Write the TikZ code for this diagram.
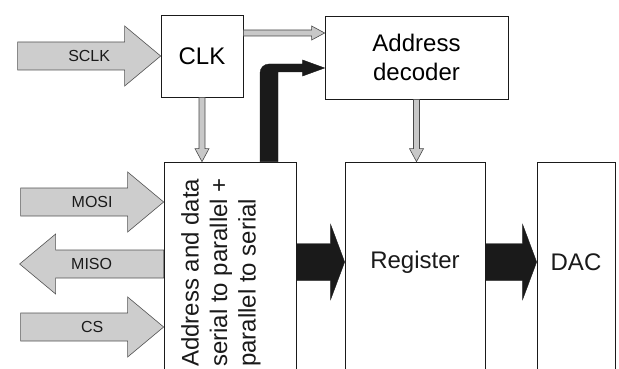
\documentclass[tikz,border=0pt]{standalone}
\usepackage{fontspec}
\usetikzlibrary{calc,positioning}
\newfontfamily\SpiFont{Liberation Sans}
\definecolor{ink}{HTML}{1A1A1A}
\definecolor{pinGrey}{HTML}{CDCDCD}
\definecolor{lineGrey}{HTML}{C8C8C8}
\newcommand{\BlockFont}{\SpiFont\fontsize{24}{28.5}\selectfont}
\newcommand{\PinFont}{\SpiFont\fontsize{16}{19}\selectfont}
\tikzset{
  block/.style={
    draw=ink, line width=0.7pt, fill=white, inner sep=0pt,
    align=center, font=\BlockFont
  },
  block text/.style={font=\BlockFont, ink, inner sep=0pt, align=center},
  pin arrow/.style={draw=ink!75, line width=0.6pt, fill=pinGrey, line join=miter},
  pin label/.style={font=\PinFont, ink, inner sep=0pt},
  ctrl arrow/.style={draw=ink!80, line width=0.6pt, fill=lineGrey, line join=miter},
  bus arrow/.style={fill=ink, draw=ink, line width=0.4pt, line join=miter},
}

\begin{document}
\begin{tikzpicture}[x=1pt,y=-1pt]
  \useasboundingbox (0,0) rectangle (619,369);
  \clip (0,0) rectangle (619,369);

  % Blocks
  \node[block, minimum width=82pt, minimum height=82pt] (clk) at (202,56) {CLK};
  \node[block, minimum width=183pt, minimum height=83pt] (dec) at (416.5,57.5) {Address\\decoder};
  \node[block, minimum width=132pt, minimum height=213pt] (ser) at (230,268.5) {};
  \node[block, minimum width=140pt, minimum height=213pt] (reg) at (415,268.5) {};
  \node[block, minimum width=78pt, minimum height=213pt] (dac) at (576,268.5) {};

  \node[block text, rotate=90, anchor=north west, align=left] (serText) at (181,367)
    {Address and data\\serial to parallel +\\parallel to serial};
  \node[block text] (regText) at ([yshift=6.5pt]reg.center) {Register};
  \node[block text] (dacText) at ([yshift=6.5pt]dac.center) {DAC};

  % SPI pins going in
  \foreach \nm/\txt/\tip in {sclk/SCLK/{clk.west}, mosi/MOSI/{ser.west |- 0,202}, cs/CS/{ser.west |- 0,327}} {
    \coordinate (tip) at (\tip);
    \draw[pin arrow] (tip) -- ++(-36,-30) -- ++(0,16) -- ++(-107,0) -- ++(0,28)
      -- ++(107,0) -- ++(0,16) -- cycle;
    \node[pin label] (\nm) at ($(tip)+(-71.5,0)$) {\txt};
  }

  % MISO going out
  \coordinate (misoBase) at (ser.west |- 0,264);
  \draw[pin arrow] ($(misoBase)+(0,-14)$) -- ++(-108,0) -- ++(0,-16) -- ++(-36,30)
    -- ++(36,30) -- ++(0,-16) -- ++(108,0) -- cycle;
  \node[pin label] (miso) at ($(misoBase)+(-72,0)$) {MISO};

  % Clock to address decoder
  \coordinate (ckS) at ([yshift=23pt]clk.east);
  \coordinate (ckE) at (dec.west |- ckS);
  \draw[ctrl arrow] ($(ckS)+(0,-3)$) -- ($(ckE)+(-13,-3)$) -- ($(ckE)+(-13,-7)$) -- (ckE)
    -- ($(ckE)+(-13,7)$) -- ($(ckE)+(-13,3)$) -- ($(ckS)+(0,3)$) -- cycle;

  % Clock and decode lines going down
  \foreach \a/\b in {clk/ser, dec/reg} {
    \coordinate (vS) at (\a.south);
    \coordinate (vE) at (\a.south |- \b.north);
    \draw[ctrl arrow] ($(vS)+(-3,0)$) -- ($(vE)+(-3,-13)$) -- ($(vE)+(-7,-13)$) -- (vE)
      -- ($(vE)+(7,-13)$) -- ($(vE)+(3,-13)$) -- ($(vS)+(3,0)$) -- cycle;
  }

  % Address bus up to the decoder
  \coordinate (adS) at ([xshift=39pt]ser.north);
  \coordinate (adT) at ([yshift=-10.5pt]dec.west);
  \fill[bus arrow] ($(adS)+(-9,0)$) [rounded corners=9pt] -- ($(adS |- adT)+(-9,-4)$)
    [sharp corners] -- ($(adT)+(-22,-4)$) -- ($(adT)+(-22,-8)$) -- (adT)
    -- ($(adT)+(-22,8)$) -- ($(adT)+(-22,4)$) -- ($(adS |- adT)+(9,4)$)
    -- ($(adS)+(9,0)$) -- cycle;

  % Parallel data buses
  \foreach \a/\b in {ser/reg, reg/dac} {
    \coordinate (dS) at ([yshift=6.5pt]\a.east);
    \coordinate (dE) at (\b.west |- dS);
    \fill[bus arrow] ($(dS)+(0,-18.5)$) -- ($(dE)+(-14,-18.5)$) -- ($(dE)+(-14,-37.5)$)
      -- (dE) -- ($(dE)+(-14,37.5)$) -- ($(dE)+(-14,18.5)$) -- ($(dS)+(0,18.5)$) -- cycle;
  }
\end{tikzpicture}
\end{document}
